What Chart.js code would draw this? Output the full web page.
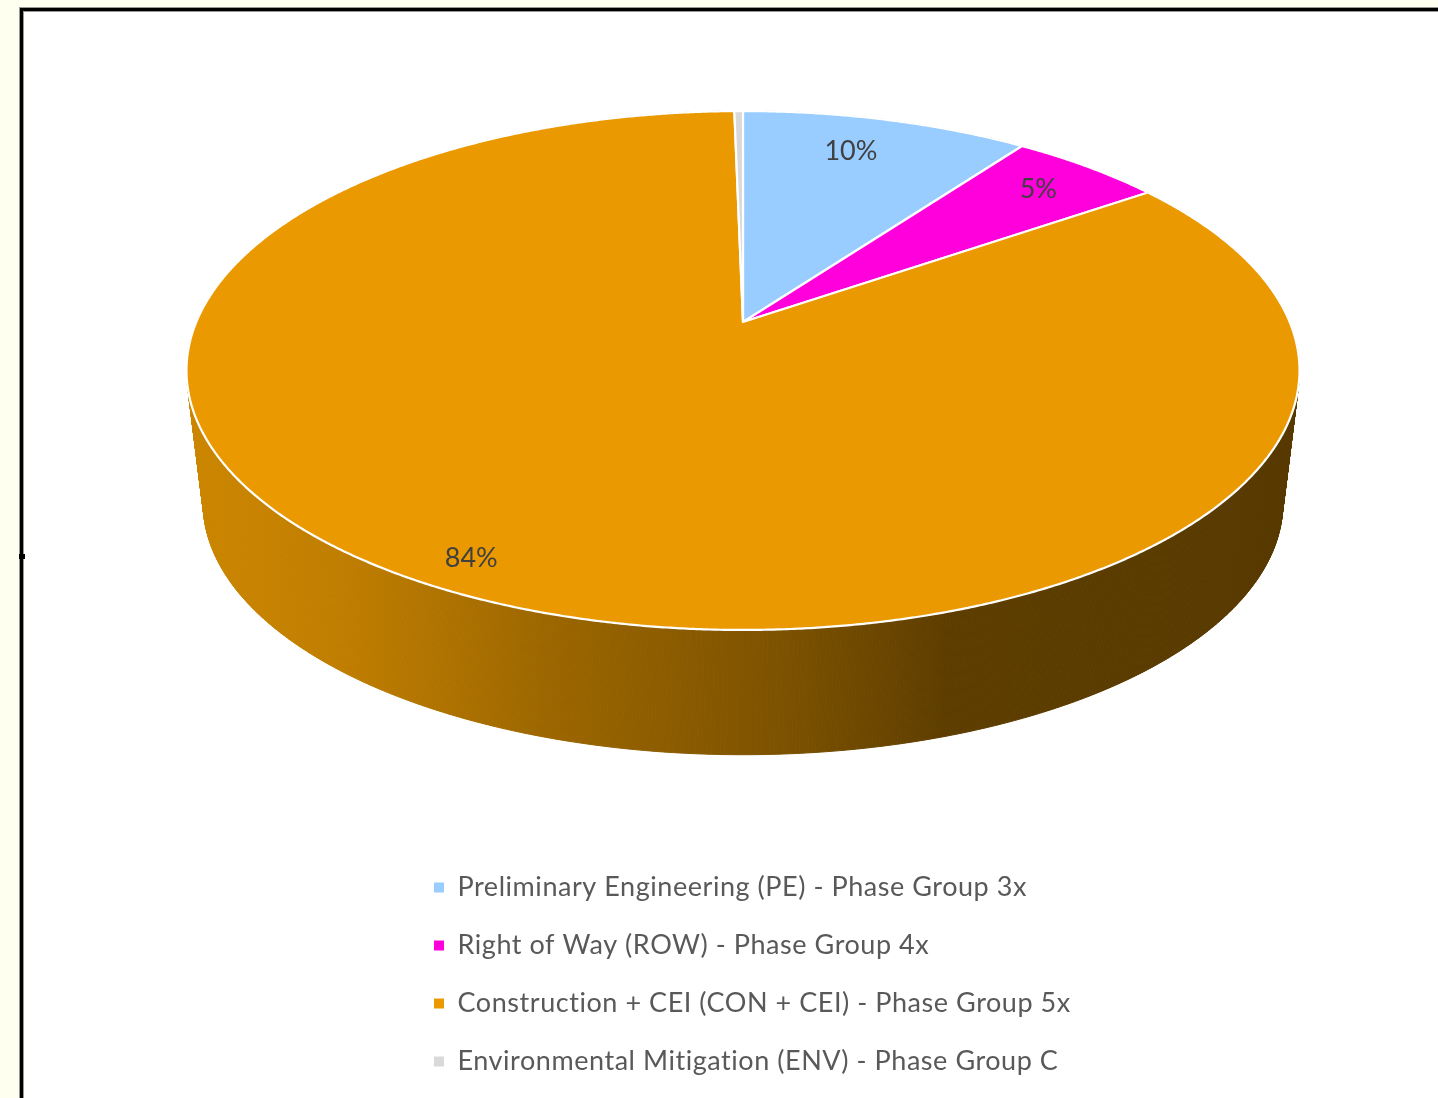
<!DOCTYPE html>
<html>
<head>
<meta charset="utf-8">
<title>Phase group pie</title>
<script src="https://cdn.jsdelivr.net/npm/chart.js@4/dist/chart.umd.min.js"></script>
<style>
  html, body { margin: 0; padding: 0; background: #fffff0; overflow: hidden; }
  #page { position: relative; width: 1438px; height: 1098px; overflow: hidden; }
  #frame { position: absolute; left: 20px; top: 8px; width: 1500px; height: 1200px; background: #fff;
           border: 3px solid #000; box-shadow: 0 0 0 1px #999, inset 0 0 0 1px #999; }
  #notch { position: absolute; left: 19px; top: 554px; width: 6px; height: 5px; background: #000; }
  canvas { position: absolute; left: 0; top: 0; }
</style>
</head>
<body>
<div id="page">
  <div id="frame"></div>
  <div id="notch"></div>
  <canvas id="myChart" width="1438" height="1098"></canvas>
</div>
<script>
var categories = [
  "Preliminary Engineering (PE) - Phase Group 3x",
  "Right of Way (ROW) - Phase Group 4x",
  "Construction + CEI (CON + CEI) - Phase Group 5x",
  "Environmental Mitigation (ENV) - Phase Group C"
];
var shares = [10.0, 5.3, 84.4, 0.3];
var colors = ["#99ccff", "#ff00dc", "#ea9a00", "#d9d9d9"];

// the pie is tilted, so angles from the library get pushed through a perspective
var tilt = { cx: 743, cy: 322, a: 546.7, b: 250.4, k: 0.1869 };
var base = { scale: 0.97, cy: 456 };
var labelRadius = [0.82, 0.84, 0.90];
var labelNudge = [-13, 0, -9];
var textFont = "Lato";

function project(angle, r, scale, cy) {
  var d = 1 - tilt.k * r * Math.sin(angle);
  return {
    x: tilt.cx + scale * tilt.a * r * Math.cos(angle) / d,
    y: cy + scale * tilt.b * r * Math.sin(angle) / d
  };
}

Chart.ArcElement.prototype.draw = function (ctx) {
  var steps = Math.max(2, Math.ceil((this.endAngle - this.startAngle) / 0.005));
  ctx.save();
  ctx.beginPath();
  ctx.moveTo(tilt.cx, tilt.cy);
  for (var i = 0; i <= steps; i++) {
    var p = project(this.startAngle + (this.endAngle - this.startAngle) * i / steps, 1, 1, tilt.cy);
    ctx.lineTo(p.x, p.y);
  }
  ctx.closePath();
  ctx.fillStyle = this.options.backgroundColor;
  ctx.fill();
  ctx.strokeStyle = "#ffffff";
  ctx.lineWidth = 2.2;
  ctx.lineJoin = "round";
  ctx.stroke();
  ctx.restore();
};

function shade(hex, f) {
  var n = parseInt(hex.slice(1), 16);
  return "rgb(" + Math.round((n >> 16 & 255) * f) + "," + Math.round((n >> 8 & 255) * f) + "," + Math.round((n & 255) * f) + ")";
}

var wallPlugin = {
  id: "wall",
  beforeDatasetsDraw: function (chart) {
    var ctx = chart.ctx;
    chart.getDatasetMeta(0).data.forEach(function (arc, idx) {
      var g = ctx.createLinearGradient(187, 0, 1300, 0);
      g.addColorStop(0, shade(colors[idx], 0.87));
      g.addColorStop(0.14, shade(colors[idx], 0.82));
      g.addColorStop(0.32, shade(colors[idx], 0.67));
      g.addColorStop(0.55, shade(colors[idx], 0.52));
      g.addColorStop(0.68, shade(colors[idx], 0.40));
      g.addColorStop(1, shade(colors[idx], 0.37));
      ctx.save();
      ctx.fillStyle = g;
      ctx.strokeStyle = g;
      ctx.lineWidth = 1;
      var steps = Math.max(2, Math.ceil((arc.endAngle - arc.startAngle) / 0.005));
      for (var i = 0; i < steps; i++) {
        var a0 = arc.startAngle + (arc.endAngle - arc.startAngle) * i / steps;
        var a1 = arc.startAngle + (arc.endAngle - arc.startAngle) * (i + 1) / steps;
        var t0 = project(a0, 1, 1, tilt.cy), t1 = project(a1, 1, 1, tilt.cy);
        var b0 = project(a0, 1, base.scale, base.cy), b1 = project(a1, 1, base.scale, base.cy);
        ctx.beginPath();
        ctx.moveTo(t0.x, t0.y);
        ctx.lineTo(t1.x, t1.y);
        ctx.lineTo(b1.x, b1.y);
        ctx.lineTo(b0.x, b0.y);
        ctx.closePath();
        ctx.fill();
        ctx.stroke();
      }
      ctx.restore();
    });
  },
  afterDatasetsDraw: function (chart) {
    var ctx = chart.ctx;
    var total = shares.reduce(function (s, v) { return s + v; }, 0);
    ctx.save();
    ctx.letterSpacing = "0px";
    ctx.font = "27px " + textFont;
    ctx.fillStyle = "#404040";
    ctx.textAlign = "center";
    ctx.textBaseline = "middle";
    chart.getDatasetMeta(0).data.forEach(function (arc, idx) {
      var pct = Math.round(shares[idx] / total * 100);
      if (pct < 1) return;
      var p = project((arc.startAngle + arc.endAngle) / 2, labelRadius[idx], 1, tilt.cy);
      ctx.fillText(pct + "%", p.x + labelNudge[idx], p.y);
    });
    ctx.restore();
  }
};

// legend sits in one left aligned column under the pie
var legendPlugin = {
  id: "legendPlace",
  beforeDraw: function (chart) {
    var legend = chart.legend;
    var pad = legend.options.labels.padding;
    legend.left = 434 - pad;
    legend.right = chart.width;
    legend.top = 874 - pad;
    legend.bottom = chart.height + 200;
    chart.ctx.letterSpacing = "0.55px";
  },
  afterDraw: function (chart) {
    chart.ctx.letterSpacing = "0px";
  }
};

window.onload = function () {
  new Chart(document.getElementById("myChart"), {
    type: "pie",
    data: {
      labels: categories,
      datasets: [{ data: shares, backgroundColor: colors, borderWidth: 0 }]
    },
    options: {
      responsive: false,
      animation: false,
      plugins: {
        tooltip: { enabled: false },
        legend: {
          position: "left",
          align: "start",
          labels: {
            boxWidth: 10,
            boxHeight: 10,
            padding: 31,
            color: "#595959",
            font: { family: textFont, size: 27 }
          }
        }
      }
    },
    plugins: [wallPlugin, legendPlugin]
  });
};
</script>
</body>
</html>
